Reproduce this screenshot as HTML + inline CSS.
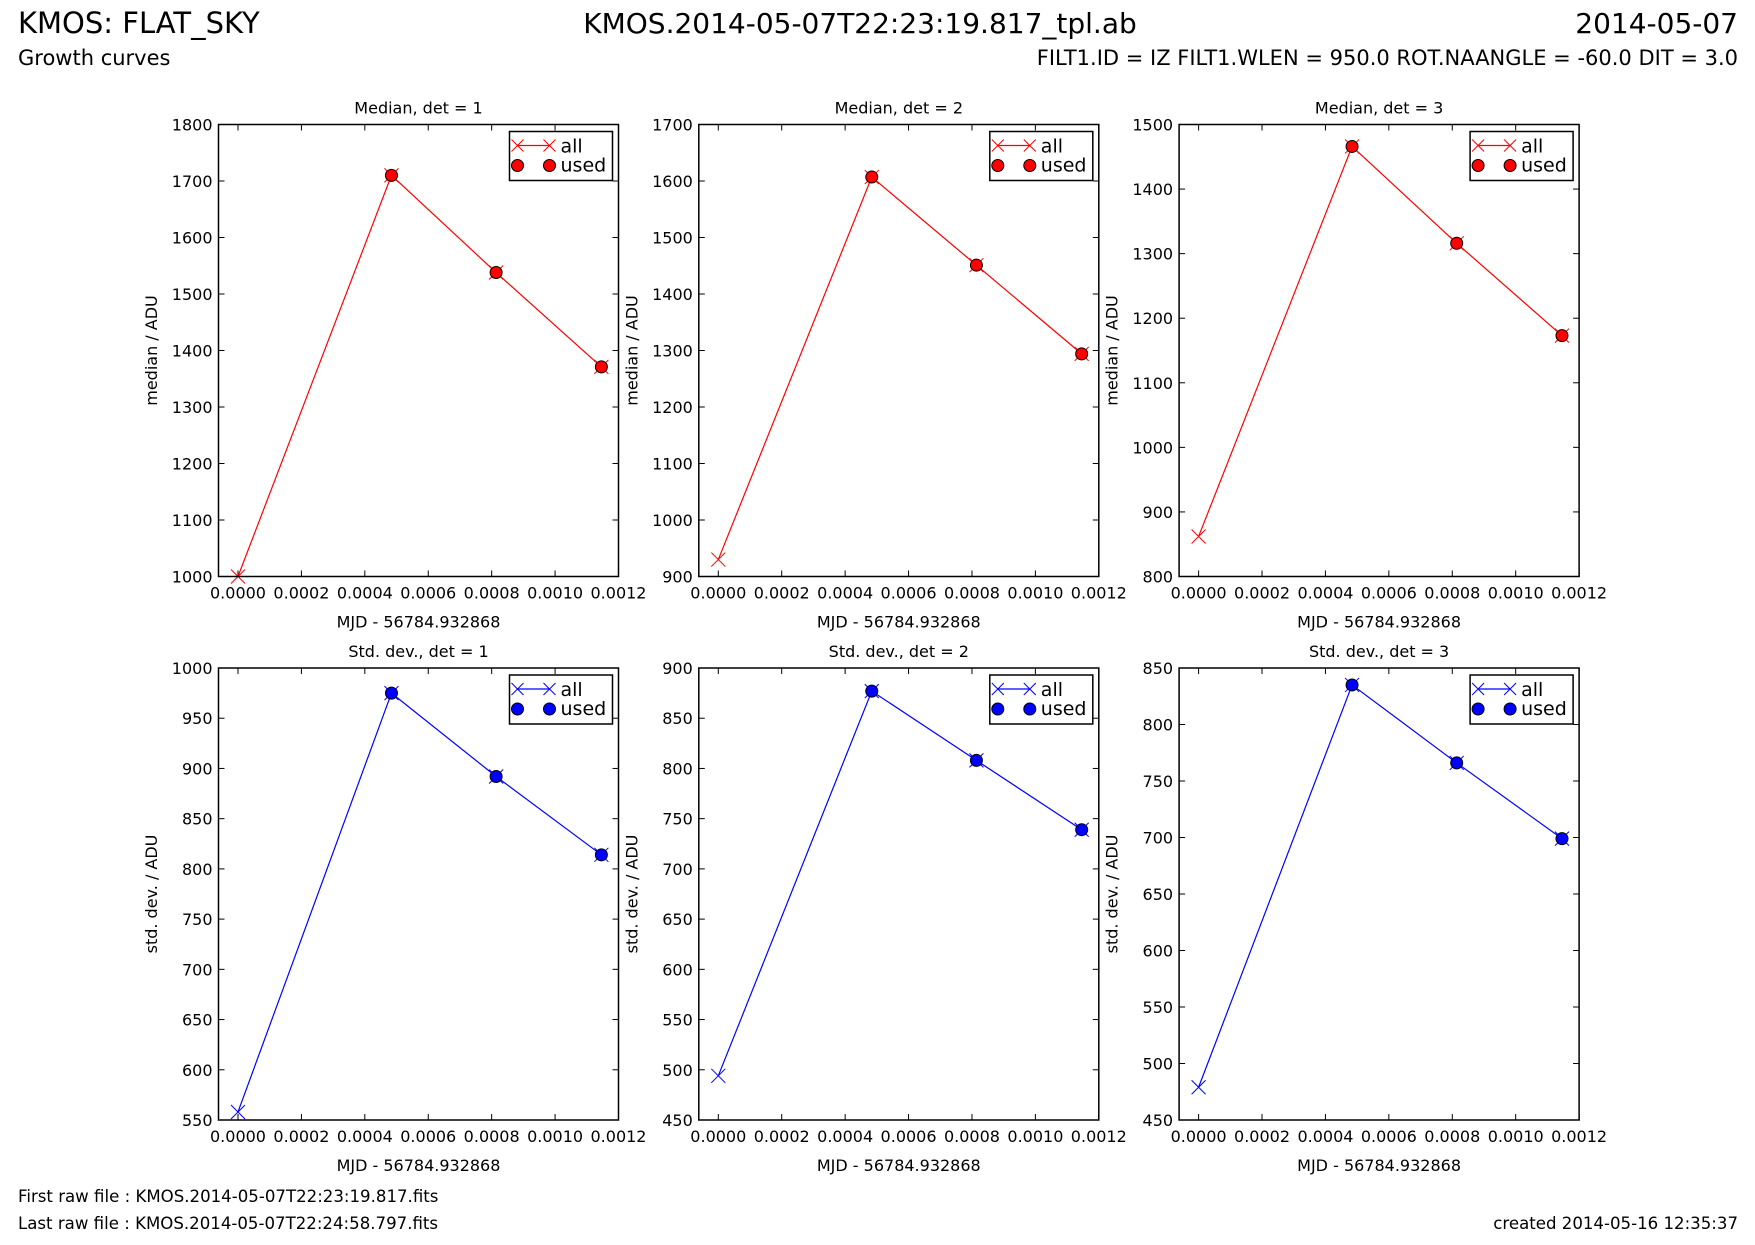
<!DOCTYPE html>
<html><head><meta charset="utf-8"><style>
body{margin:0;background:#fff;width:1755px;height:1245px;overflow:hidden;font-family:"DejaVu Sans","Liberation Sans",sans-serif}
svg{display:block}
</style></head><body>
<svg id="fig" width="1755" height="1245" xmlns="http://www.w3.org/2000/svg" font-family="DejaVu Sans, Liberation Sans, sans-serif">
<text x="18" y="33" font-size="29">KMOS: FLAT_SKY</text>
<text x="18" y="65" font-size="21">Growth curves</text>
<text x="860" y="33" font-size="28" text-anchor="middle">KMOS.2014-05-07T22:23:19.817_tpl.ab</text>
<text x="1738" y="33" font-size="28" text-anchor="end">2014-05-07</text>
<text x="1738" y="65" font-size="21" text-anchor="end">FILT1.ID = IZ FILT1.WLEN = 950.0 ROT.NAANGLE = -60.0 DIT = 3.0</text>
<text x="18" y="1202" font-size="16.6">First raw file : KMOS.2014-05-07T22:23:19.817.fits</text>
<text x="18" y="1229" font-size="16.6">Last raw file : KMOS.2014-05-07T22:24:58.797.fits</text>
<text x="1738" y="1229" font-size="16.6" text-anchor="end">created 2014-05-16 12:35:37</text>
</svg>
<script>
const xValues=[0,0.000484,0.000814,0.001146];
const xTicks=[0,0.0002,0.0004,0.0006,0.0008,0.0010,0.0012];
const xTickLabels=["0.0000","0.0002","0.0004","0.0006","0.0008","0.0010","0.0012"];
const medianDet1=[1000,1710,1538,1371];
const medianDet2=[930,1607,1451,1294];
const medianDet3=[862,1466,1316,1173];
const stdDet1=[558,975,892,814];
const stdDet2=[494,877,808,739];
const stdDet3=[479,835,766,699];
const medTicks1=[1000,1100,1200,1300,1400,1500,1600,1700,1800];
const medTicks2=[900,1000,1100,1200,1300,1400,1500,1600,1700];
const medTicks3=[800,900,1000,1100,1200,1300,1400,1500];
const stdTicks1=[550,600,650,700,750,800,850,900,950,1000];
const stdTicks2=[450,500,550,600,650,700,750,800,850,900];
const stdTicks3=[450,500,550,600,650,700,750,800,850];
const titles=["Median, det = 1","Median, det = 2","Median, det = 3","Std. dev., det = 1","Std. dev., det = 2","Std. dev., det = 3"];

const NS="http://www.w3.org/2000/svg";
const fig=document.getElementById('fig');
function mk(tag,attrs,parent){const e=document.createElementNS(NS,tag);for(const k in attrs)e.setAttribute(k,attrs[k]);(parent||fig).appendChild(e);return e;}

const panels=[
 {vals:medianDet1,ticks:medTicks1,col:0,row:0,color:"#ff0000",ylab:"median / ADU"},
 {vals:medianDet2,ticks:medTicks2,col:1,row:0,color:"#ff0000",ylab:"median / ADU"},
 {vals:medianDet3,ticks:medTicks3,col:2,row:0,color:"#ff0000",ylab:"median / ADU"},
 {vals:stdDet1,ticks:stdTicks1,col:0,row:1,color:"#0000ff",ylab:"std. dev. / ADU"},
 {vals:stdDet2,ticks:stdTicks2,col:1,row:1,color:"#0000ff",ylab:"std. dev. / ADU"},
 {vals:stdDet3,ticks:stdTicks3,col:2,row:1,color:"#0000ff",ylab:"std. dev. / ADU"}
];
const W=400,H=452,XMIN=-0.0000615,XMAX=0.0012;
panels.forEach((p,i)=>{
 const x0=218.5+p.col*480.3, y0=p.row?668:124.5;
 const ymin=p.ticks[0], ymax=p.ticks[p.ticks.length-1];
 const sx=v=>x0+(v-XMIN)/(XMAX-XMIN)*W;
 const sy=v=>y0+H-(v-ymin)/(ymax-ymin)*H;
 const g=mk('g',{});
 
 
 const t=mk('text',{x:x0+W/2,y:y0-11,'font-size':16,'text-anchor':'middle'},g);t.textContent=titles[i];
 
 xTicks.forEach((v,k)=>{
  const x=sx(v);
  mk('line',{x1:x,x2:x,y1:y0+H,y2:y0+H-6,stroke:'#000','stroke-width':1},g);
  mk('line',{x1:x,x2:x,y1:y0,y2:y0+6,stroke:'#000','stroke-width':1},g);
  const l=mk('text',{x:x,y:y0+H+22,'font-size':16,'text-anchor':'middle'},g);l.textContent=xTickLabels[k];
  
 });
 p.ticks.forEach(v=>{
  const y=sy(v);
  mk('line',{x1:x0,x2:x0+6,y1:y,y2:y,stroke:'#000','stroke-width':1},g);
  mk('line',{x1:x0+W,x2:x0+W-6,y1:y,y2:y,stroke:'#000','stroke-width':1},g);
  const l=mk('text',{x:x0-6,y:y+6,'font-size':16,'text-anchor':'end'},g);l.textContent=v;
  
 });
 const xl=mk('text',{x:x0+W/2,y:y0+H+51,'font-size':16,'text-anchor':'middle'},g);xl.textContent="MJD - 56784.932868";
 
 const yl=mk('text',{x:0,y:0,'font-size':16,'text-anchor':'middle',transform:`translate(${x0-61.5},${y0+H/2}) rotate(-90)`},g);yl.textContent=p.ylab;
 
 const pts=xValues.map((x,k)=>sx(x)+','+sy(p.vals[k])).join(' ');
 const pl=mk('polyline',{points:pts,fill:'none',stroke:p.color,'stroke-width':1.2},g);
 
 xValues.forEach((x,k)=>{
  const cx=sx(x),cy=sy(p.vals[k]);
  mk('path',{d:`M${cx-7},${cy-7}L${cx+7},${cy+7}M${cx-7},${cy+7}L${cx+7},${cy-7}`,stroke:p.color,'stroke-width':1},g);
  if(k>0){const c=mk('circle',{cx:cx,cy:cy,r:6,fill:p.color,stroke:'#000','stroke-width':1},g);
   }
 });
 mk('rect',{x:x0,y:y0,width:W,height:H,fill:'none',stroke:'#000','stroke-width':1.5},g);
 const lx=x0+W-109,ly=y0+7;
 const lg=mk('g',{},g);
 
 mk('rect',{x:lx,y:ly,width:103,height:49,fill:'#fff',stroke:'#000','stroke-width':1.5},lg);
 mk('line',{x1:lx+8,x2:lx+40,y1:ly+14,y2:ly+14,stroke:p.color,'stroke-width':1.2},lg);
 [lx+8,lx+40].forEach(cx=>{mk('path',{d:`M${cx-6},${ly+8}L${cx+6},${ly+20}M${cx-6},${ly+20}L${cx+6},${ly+8}`,stroke:p.color,'stroke-width':1},lg);
  mk('circle',{cx:cx,cy:ly+34,r:6,fill:p.color,stroke:'#000','stroke-width':1},lg);});
 const a=mk('text',{x:lx+51,y:ly+21,'font-size':19},lg);a.textContent='all';
 
 const u=mk('text',{x:lx+51,y:ly+40,'font-size':19},lg);u.textContent='used';
 
});
</script>
</body></html>
